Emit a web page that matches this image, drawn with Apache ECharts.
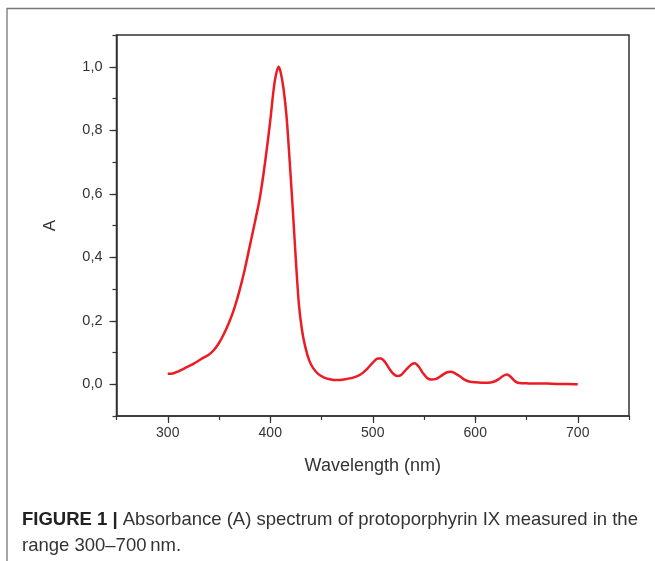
<!DOCTYPE html>
<html>
<head>
<meta charset="utf-8">
<title>Protoporphyrin IX absorbance</title>
<script src="https://cdn.jsdelivr.net/npm/echarts@6/dist/echarts.min.js"></script>
<style>
  html, body { margin: 0; padding: 0; background: #fff; }
  #chart { width: 655px; height: 561px; }
</style>
</head>
<body>
<div id="chart"></div>
<script>
// wavelength (nm) and absorbance
var wavelength = [300, 305, 310, 315, 320, 325, 330, 335, 340, 345, 350, 355, 360, 365, 370, 375, 380, 385, 390, 395,
  400, 403, 405, 408, 410, 413, 416, 419, 422, 425, 428, 431, 434, 438, 442, 447, 452, 458, 465, 472,
  480, 486, 490, 495, 500, 505, 508, 512, 516, 520, 524, 528, 533, 538, 541, 545, 549, 553, 557, 562,
  567, 572, 576, 580, 585, 590, 595, 600, 606, 612, 618, 623, 627, 631, 635, 639, 643, 650, 660, 670,
  680, 690, 700];
var absorbance = [0.033, 0.034, 0.040, 0.048, 0.056, 0.064, 0.074, 0.084, 0.093, 0.108, 0.130, 0.160, 0.196, 0.240, 0.295, 0.360, 0.435, 0.510, 0.590, 0.700,
  0.830, 0.920, 0.965, 1.000, 0.985, 0.930, 0.840, 0.700, 0.550, 0.390, 0.250, 0.170, 0.120, 0.075, 0.050, 0.032, 0.022, 0.016, 0.013, 0.015,
  0.020, 0.027, 0.035, 0.050, 0.068, 0.081, 0.081, 0.070, 0.050, 0.033, 0.026, 0.030, 0.048, 0.063, 0.066, 0.055, 0.035, 0.020, 0.015, 0.017,
  0.027, 0.037, 0.039, 0.035, 0.025, 0.014, 0.008, 0.006, 0.005, 0.005, 0.008, 0.016, 0.026, 0.031, 0.022, 0.009, 0.004, 0.003, 0.002, 0.002,
  0.001, 0.001, 0.000];
var xTicks = [300, 400, 500, 600, 700];
var yTicks = [0, 0.2, 0.4, 0.6, 0.8, 1.0];
var xTitle = 'Wavelength (nm)';
var yTitle = 'A';
var captionBold = 'FIGURE 1 |';
var captionLine1 = ' Absorbance (A) spectrum of protoporphyrin IX measured in the';
var captionLine2 = 'range 300\u2013700\u2009nm.';

var points = [];
for (var i = 0; i < wavelength.length; i++) {
  points.push([wavelength[i], absorbance[i]]);
}

var axisColor = '#333';
var font = 'Liberation Sans, Arial, Helvetica, sans-serif';

var chart = echarts.init(document.getElementById('chart'), null, { renderer: 'canvas' });
chart.setOption({
  backgroundColor: '#fff',
  animation: false,
  grid: {
    left: 116.5, top: 35, right: 26, bottom: 145,
    show: true, borderColor: axisColor, borderWidth: 1.5, backgroundColor: 'transparent'
  },
  xAxis: [{
    type: 'value', min: 250, max: 750, interval: 50,
    name: xTitle, nameLocation: 'middle', nameGap: 41,
    nameTextStyle: { fontFamily: font, fontSize: 18, color: axisColor },
    axisLine: { onZero: false, lineStyle: { color: axisColor, width: 1.5 } },
    axisTick: { length: 4, lineStyle: { color: axisColor, width: 1.2 } },
    axisLabel: { customValues: xTicks, margin: 10, fontFamily: font, fontSize: 14, color: axisColor },
    splitLine: { show: false }
  }, {
    type: 'value', min: 250, max: 750, interval: 50, position: 'bottom',
    axisLine: { show: false, onZero: false },
    axisTick: { customValues: xTicks, length: 7, lineStyle: { color: axisColor, width: 1.2 } },
    axisLabel: { show: false },
    splitLine: { show: false }
  }],
  yAxis: [{
    type: 'value', min: -0.1, max: 1.1, interval: 0.1,
    name: yTitle, nameLocation: 'middle', nameGap: 58,
    nameTextStyle: { fontFamily: font, fontSize: 17, color: axisColor },
    axisLine: { onZero: false, lineStyle: { color: axisColor, width: 1.5 } },
    axisTick: { length: 4, lineStyle: { color: axisColor, width: 1.2 } },
    axisLabel: {
      customValues: yTicks, margin: 14, fontFamily: font, fontSize: 14.5, color: axisColor,
      formatter: function (v) { return v.toFixed(1).replace('.', ','); }
    },
    splitLine: { show: false }
  }, {
    type: 'value', min: -0.1, max: 1.1, interval: 0.1, position: 'left',
    axisLine: { show: false, onZero: false },
    axisTick: { customValues: yTicks, length: 7, lineStyle: { color: axisColor, width: 1.2 } },
    axisLabel: { show: false },
    splitLine: { show: false }
  }],
  series: [{
    type: 'line',
    data: points,
    smooth: 0.3,
    showSymbol: false,
    lineStyle: { color: '#ec1c24', width: 2.5 },
    z: 3
  }],
  graphic: [{
    type: 'rect',
    shape: { x: 7, y: 8.5, width: 700, height: 600 },
    style: { fill: 'none', stroke: '#777', lineWidth: 1.3 },
    silent: true
  }, {
    type: 'text',
    left: 22, top: 507,
    style: {
      text: '{b|' + captionBold + '}' + captionLine1 + '\n' + captionLine2,
      font: '18.5px ' + font,
      fill: '#333',
      lineHeight: 26,
      rich: {
        b: { fontWeight: 'bold', fontSize: 18.5, fontFamily: font, fill: '#222' }
      }
    }
  }]
});
</script>
</body>
</html>
